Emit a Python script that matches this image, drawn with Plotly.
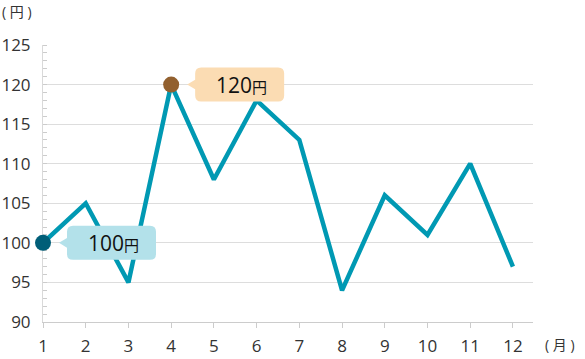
import plotly.graph_objects as go

months = [1, 2, 3, 4, 5, 6, 7, 8, 9, 10, 11, 12]
prices = [100, 105, 95, 120, 108, 118, 113, 94, 106, 101, 110, 97]
x_ticks = [1, 2, 3, 4, 5, 6, 7, 8, 9, 10, 11, 12]
y_ticks = [90, 95, 100, 105, 110, 115, 120, 125]
highlights = [(1, 100, "#005e78", "#b3e1ea"), (4, 120, "#92602f", "#fbdcb3")]

FONT = "Open Sans, Noto Sans CJK JP, sans-serif"
LINE = "#0099b3"

fig = go.Figure()
fig.add_trace(go.Scatter(x=months, y=prices, mode="lines",
                         line=dict(color=LINE, width=4.5), cliponaxis=False,
                         hoverinfo="skip"))

def bubble_path(w=89, h=34, off=24, r=6, tip=8):
    x0 = off
    x1 = off + w
    y0 = -h / 2
    y1 = h / 2
    return (f"M {x0-tip},0 L {x0},{-tip*0.6} L {x0},{y0+r} Q {x0},{y0} {x0+r},{y0} "
            f"L {x1-r},{y0} Q {x1},{y0} {x1},{y0+r} L {x1},{y1-r} Q {x1},{y1} {x1-r},{y1} "
            f"L {x0+r},{y1} Q {x0},{y1} {x0},{y1-r} L {x0},{tip*0.6} Z")

for hx, hy, mcol, bcol in highlights:
    fig.add_shape(type="path", xref="x", yref="y", xsizemode="pixel", ysizemode="pixel",
                  xanchor=hx, yanchor=hy, path=bubble_path(),
                  fillcolor=bcol, line=dict(width=0), layer="above")
    fig.add_trace(go.Scatter(x=[hx], y=[hy], mode="markers",
                             marker=dict(color=mcol, size=16, line=dict(width=0)),
                             cliponaxis=False, hoverinfo="skip"))
    fig.add_annotation(x=hx, y=hy, xref="x", yref="y", xshift=24 + 46, showarrow=False,
                       text=f"<span style='font-size:21px'>{hy}</span><span style='font-size:15px'>円</span>",
                       font=dict(family=FONT, color="#111111"), xanchor="center", yanchor="middle")

fig.add_annotation(x=0, y=1, xref="paper", yref="paper", xshift=-43, yshift=45,
                   text="( 円 )", showarrow=False, xanchor="left", yanchor="top",
                   font=dict(family=FONT, size=14, color="#333"))
fig.add_annotation(x=1, y=0, xref="paper", yref="paper", xshift=10, yshift=-22,
                   text="( 月 )", showarrow=False, xanchor="left", yanchor="middle",
                   font=dict(family=FONT, size=14, color="#333"))

fig.update_layout(
    width=585, height=359,
    margin=dict(l=43, r=52, t=45, b=37, autoexpand=False),
    paper_bgcolor="white", plot_bgcolor="white",
    showlegend=False,
    font=dict(family=FONT, size=16, color="#333"),
    xaxis=dict(range=[1, 12.47], tickvals=x_ticks, ticks="outside", ticklen=5,
               tickcolor="#cccccc", showline=True, linecolor="#cccccc", linewidth=1,
               showgrid=False, zeroline=False, fixedrange=True, automargin=False,
               layer="below traces", ticklabelstandoff=4,
               tickfont=dict(family=FONT, size=17, color="#333")),
    yaxis=dict(range=[90, 125], tickvals=y_ticks, ticks="", showline=True,
               linecolor="#d9d9d9", linewidth=1, gridcolor="#dddddd", gridwidth=1,
               zeroline=False, fixedrange=True, ticklabelstandoff=8, automargin=False,
               layer="below traces",
               tickfont=dict(family=FONT, size=17, color="#333"),
               minor=dict(dtick=1, ticks="inside", ticklen=4, tickcolor="#cccccc",
                          showgrid=False)),
)

fig.write_html("out.html", config={"displayModeBar": False},
               post_script="document.body.style.margin='0';")
